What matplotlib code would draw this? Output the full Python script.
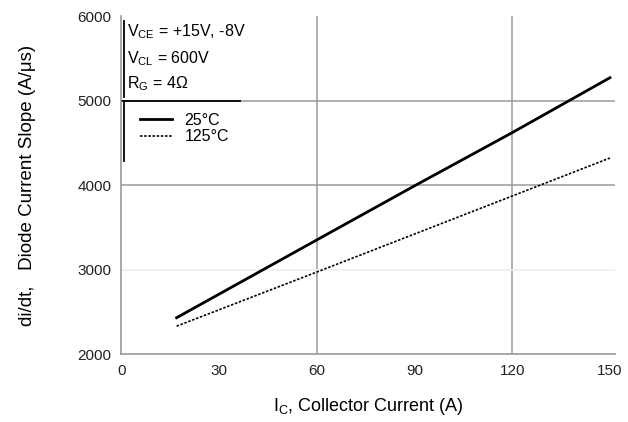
import matplotlib
matplotlib.use('Agg')
import matplotlib.pyplot as plt

plt.rcParams['font.family'] = ['Liberation Sans', 'DejaVu Sans']
plt.rcParams['mathtext.fontset'] = 'custom'
plt.rcParams['mathtext.rm'] = 'Liberation Sans'
plt.rcParams['mathtext.it'] = 'Liberation Sans:italic'

# collector current (A) and di/dt (A/us)
ic = [17, 60, 90, 120, 150]
didt_25 = [2430, 3350, 3990, 4620, 5270]
didt_125 = [2330, 2970, 3420, 3870, 4320]

xticks = [0, 30, 60, 90, 120, 150]
yticks = [2000, 3000, 4000, 5000, 6000]

fig = plt.figure(figsize=(6.28, 4.22), dpi=100)
ax = fig.add_axes([0.193, 0.161, 0.786, 0.801])

gc = '#9a9a9a'
for x in [60, 120]:
    ax.axvline(x, color=gc, lw=1.1, zorder=1)
for y in [4000, 5000]:
    ax.axhline(y, color=gc, lw=1.1, zorder=1)
ax.axhline(3000, color='#ececec', lw=1.1, zorder=1)

ax.plot(ic, didt_25, color='black', lw=2.0, zorder=3, label='25°C')
ax.plot(ic, didt_125, color='black', lw=1.2, ls=(0, (1.5, 1)), zorder=3, label='125°C')

ax.set_xlim(0, 151.5)
ax.set_ylim(2000, 6000)
ax.set_xticks(xticks)
ax.set_yticks(yticks)
ax.tick_params(length=0, labelsize=11, colors='#222222', pad=7)
for s in ['top', 'right']:
    ax.spines[s].set_visible(False)
for s in ['left', 'bottom']:
    ax.spines[s].set_color(gc)
    ax.spines[s].set_linewidth(1.2)

ax.set_xlabel(r'I$_{\mathrm{C}}$, Collector Current (A)', fontsize=13, labelpad=13)
ax.set_ylabel('di/dt,   Diode Current Slope (A/μs)', fontsize=13.5, labelpad=30)

# condition box
ax.plot([0.006, 0.006], [0.76, 0.985], transform=ax.transAxes, color='black', lw=1.3, clip_on=False)
ax.plot([0.0, 0.24], [0.75, 0.75], transform=ax.transAxes, color='black', lw=1.3)
ax.plot([0.006, 0.006], [0.57, 0.742], transform=ax.transAxes, color='black', lw=1.3)
ax.text(0.012, 0.955, r'V$_{\mathrm{CE}}$ = +15V, -8V', transform=ax.transAxes, fontsize=11.5, va='center')
ax.text(0.012, 0.875, r'V$_{\mathrm{CL}}$ = 600V', transform=ax.transAxes, fontsize=11.5, va='center')
ax.text(0.012, 0.800, r'R$_{\mathrm{G}}$ = 4Ω', transform=ax.transAxes, fontsize=11.5, va='center')

ax.legend(loc='upper left', bbox_to_anchor=(0.012, 0.752), frameon=False, fontsize=11.5,
          handlelength=2.0, handletextpad=0.8, labelspacing=0.1, borderpad=0.3)

fig.savefig('out.png', dpi=100)
